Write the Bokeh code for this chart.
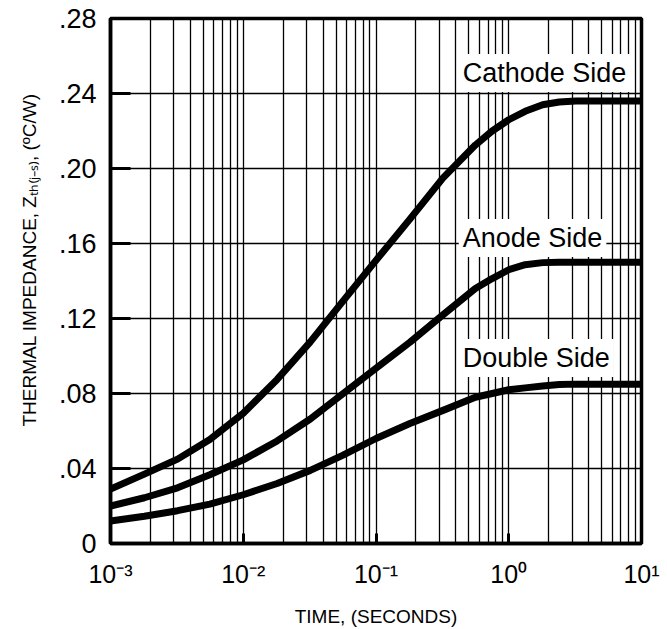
from bokeh.plotting import figure
from bokeh.models import Range1d, FixedTicker, Label
from bokeh.embed import file_html
from bokeh.resources import INLINE

# ---- data ----
time_s = [0.001, 0.0018, 0.0032, 0.0056, 0.01, 0.018, 0.032, 0.056, 0.1, 0.18, 0.32, 0.56, 0.75, 1, 1.33, 1.8, 2.4, 3.2, 10]
cathode = [0.029, 0.037, 0.045, 0.0555, 0.0695, 0.0875, 0.1075, 0.129, 0.151, 0.173, 0.195, 0.2125, 0.220, 0.226, 0.2305, 0.234, 0.2355, 0.236, 0.236]
anode = [0.020, 0.0244, 0.0297, 0.0367, 0.0446, 0.0547, 0.0664, 0.0797, 0.0935, 0.1073, 0.122, 0.136, 0.1413, 0.146, 0.1487, 0.1498, 0.150, 0.150, 0.150]
double = [0.012, 0.0145, 0.0175, 0.021, 0.026, 0.032, 0.039, 0.047, 0.056, 0.064, 0.071, 0.078, 0.080, 0.082, 0.083, 0.084, 0.0848, 0.085, 0.085]

series_names = ["Cathode Side", "Anode Side", "Double Side"]
label_x = [0.42, 0.42, 0.42]
label_y = [0.251, 0.163, 0.099]

y_tick_vals = [0, 0.04, 0.08, 0.12, 0.16, 0.2, 0.24, 0.28]
y_tick_labels = ["0", ".04", ".08", ".12", ".16", ".20", ".24", ".28"]
x_tick_vals = [0.001, 0.01, 0.1, 1, 10]
x_tick_labels = ["10\u207b\u00b3", "10\u207b\u00b2", "10\u207b\u00b9", "10\u2070", "10\u00b9"]

FONT = "Liberation Sans"

p = figure(width=660, height=629, x_axis_type="log",
           x_range=Range1d(0.001, 10), y_range=Range1d(0, 0.28),
           output_backend="svg", toolbar_location=None,
           min_border_left=110, min_border_right=19,
           min_border_top=18, min_border_bottom=84)

minor = [m * 10 ** e for e in range(-3, 1) for m in range(2, 10)]
p.xaxis.ticker = FixedTicker(ticks=x_tick_vals, minor_ticks=minor)
p.yaxis.ticker = FixedTicker(ticks=y_tick_vals)
p.xaxis.major_label_overrides = dict(zip(x_tick_vals, x_tick_labels))
p.yaxis.major_label_overrides = dict(zip(y_tick_vals, y_tick_labels))

# grid
p.xgrid.grid_line_color = "black"
p.xgrid.grid_line_width = 1.3
p.xgrid.minor_grid_line_color = "black"
p.xgrid.minor_grid_line_width = 1.3
p.ygrid.grid_line_color = "black"
p.ygrid.grid_line_width = 1.3

p.outline_line_color = "black"
p.outline_line_width = 3.5
p.outline_line_alpha = 1

for ax in (p.xaxis, p.yaxis):
    ax.axis_line_width = 3.5
    ax.axis_line_color = "black"
    ax.major_tick_out = 0
    ax.minor_tick_out = 0
    ax.minor_tick_in = 0
    ax.major_tick_line_width = 3
    ax.major_tick_line_color = "black"
    ax.major_label_text_font = FONT
    ax.major_label_text_color = "black"
    ax.axis_label_text_font = FONT
    ax.axis_label_text_font_style = "normal"
    ax.axis_label_text_color = "black"

p.yaxis.major_label_text_font_size = "27px"
p.xaxis.major_label_text_font_size = "25px"
p.yaxis.major_tick_in = 20
p.xaxis.major_tick_in = 10
p.yaxis.major_label_standoff = 14
p.xaxis.major_label_standoff = 16

p.xaxis.axis_label = "TIME, (SECONDS)"
p.xaxis.axis_label_text_font_size = "19px"
p.xaxis.axis_label_standoff = 15

p.yaxis.axis_label = "\u00a0" * 8 + "THERMAL IMPEDANCE, Z\u209c\u2095\u208d\u2c7c\u208b\u209b\u208e, (\u00baC/W)"
p.yaxis.axis_label_text_font_size = "19px"
p.yaxis.axis_label_standoff = 16

for ys in (cathode, anode, double):
    p.line(time_s, ys, line_width=7, line_color="black", line_join="round")

for name, lx, ly in zip(series_names, label_x, label_y):
    p.add_layout(Label(x=lx, y=ly, text=name, text_font=FONT, text_font_size="27px",
                       text_color="black", text_align="left", text_baseline="middle",
                       background_fill_color="white", background_fill_alpha=1,
                       padding=4))

open("out.html", "w").write(file_html(p, INLINE))
